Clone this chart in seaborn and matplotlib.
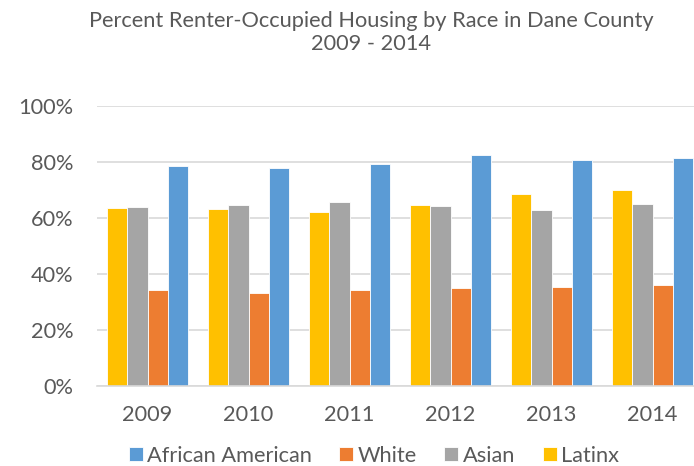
import matplotlib.pyplot as plt
import matplotlib.ticker as mtick
import pandas as pd
import seaborn as sns

years = ["2009", "2010", "2011", "2012", "2013", "2014"]
latinx = [63.4, 63.0, 62.0, 64.5, 68.6, 69.9]
asian = [63.7, 64.4, 65.7, 64.3, 62.6, 64.8]
white = [34.2, 33.2, 34.1, 34.8, 35.3, 35.8]
african_american = [78.5, 77.8, 79.2, 82.4, 80.6, 81.4]

bar_order = ["Latinx", "Asian", "White", "African American"]
legend_order = ["African American", "White", "Asian", "Latinx"]
palette = {
    "African American": "#5B9BD5",
    "White": "#ED7D31",
    "Asian": "#A5A5A5",
    "Latinx": "#FFC000",
}

series = {"Latinx": latinx, "Asian": asian, "White": white, "African American": african_american}
rows = []
for race, vals in series.items():
    for yr, v in zip(years, vals):
        rows.append({"year": yr, "race": race, "pct": v / 100})
df = pd.DataFrame(rows)

sns.set_style("white")
plt.rcParams["font.family"] = ["Lato", "DejaVu Sans"]
text_color = "#595959"
fs = 15.7

fig = plt.figure(figsize=(6.94, 4.66), dpi=100)
# plot area runs past the right edge, as in the original (2014 bar is clipped)
ax = fig.add_axes([97 / 694, 1 - 385.7 / 466, 606 / 694, 280 / 466])

sns.barplot(data=df, x="year", y="pct", hue="race", hue_order=bar_order,
            palette=palette, order=years, width=0.8, saturation=1,
            edgecolor="white", linewidth=0.6, ax=ax)

ax.set_xlim(-0.5, 5.5)
ax.set_ylim(0, 1)
ax.set_yticks([0, 0.2, 0.4, 0.6, 0.8, 1.0])
ax.yaxis.set_major_formatter(mtick.PercentFormatter(1.0, decimals=0))
ax.grid(axis="y", color="#D9D9D9", linewidth=1.2)
ax.set_axisbelow(True)
for side in ["top", "right", "left"]:
    ax.spines[side].set_visible(False)
ax.spines["bottom"].set_color("#D9D9D9")
ax.spines["bottom"].set_linewidth(1.2)
ax.tick_params(axis="both", length=0, labelsize=fs, colors=text_color)
ax.tick_params(axis="y", pad=17)
ax.tick_params(axis="x", pad=14)
ax.set_xlabel("")
ax.set_ylabel("")

handles, labels = ax.get_legend_handles_labels()
lookup = dict(zip(labels, handles))
ax.legend_.remove()
fig.legend([lookup[k] for k in legend_order], legend_order,
           loc="center", bbox_to_anchor=(374 / 694, 1 - 455.5 / 466), ncol=4,
           frameon=False, fontsize=fs, handlelength=0.64, handleheight=0.64,
           handletextpad=0.22, columnspacing=1.24, borderpad=0,
           labelcolor=text_color)

fig.text(371 / 694, 1 - 27 / 466, "Percent Renter-Occupied Housing by Race in Dane County",
         ha="center", va="baseline", fontsize=fs, color=text_color)
fig.text(371 / 694, 1 - 50 / 466, "2009 - 2014",
         ha="center", va="baseline", fontsize=fs, color=text_color)

fig.savefig("out.png", dpi=100)
